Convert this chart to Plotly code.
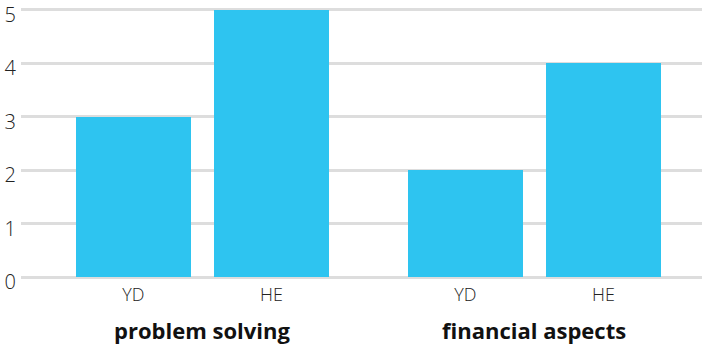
import plotly.graph_objects as go

# Chart data
groups = ["problem solving", "financial aspects"]
series = ["YD", "HE"]
values = {
    "problem solving": [3, 5],
    "financial aspects": [2, 4],
}
y_ticks = [0, 1, 2, 3, 4, 5]

BAR_COLOR = "#2EC4F0"
GRID_COLOR = "#DDDDDD"
FONT = "Open Sans"
GROUP_GAP = 2.406  # distance between first bars of consecutive groups, in bar steps

xs, ys, labels = [], [], []
for gi, g in enumerate(groups):
    for si, s in enumerate(series):
        xs.append(gi * GROUP_GAP + si)
        ys.append(values[g][si])
        labels.append(s)

fig = go.Figure(
    go.Bar(
        x=xs,
        y=ys,
        width=0.833,
        marker=dict(color=BAR_COLOR, line=dict(width=0)),
        hoverinfo="skip",
    )
)

group_centers = [gi * GROUP_GAP + (len(series) - 1) / 2 for gi in range(len(groups))]
for g, cx in zip(groups, group_centers):
    fig.add_annotation(
        x=cx, xref="x", y=0, yref="paper", yshift=-53,
        text=f"<b>{g}</b>", showarrow=False,
        font=dict(family=FONT, size=22, color="#111111"),
        xanchor="center", yanchor="middle",
    )

fig.update_layout(
    width=702, height=344,
    margin=dict(l=21, r=0, t=8, b=67),
    paper_bgcolor="white", plot_bgcolor="white",
    showlegend=False,
    bargap=0,
    xaxis=dict(
        range=[-0.815, 4.12],
        tickvals=xs, ticktext=labels,
        tickfont=dict(family=FONT, size=18, color="#222222", weight=300),
        showgrid=False, zeroline=False, showline=False,
        ticks="", ticklabelstandoff=5,
        automargin=False,
    ),
    yaxis=dict(
        range=[0, 5.037],
        tickvals=y_ticks,
        tickfont=dict(family=FONT, size=20, color="#222222", weight=300),
        showgrid=True, gridcolor=GRID_COLOR, gridwidth=2.5,
        zeroline=True, zerolinecolor=GRID_COLOR, zerolinewidth=2.5,
        showline=False, ticks="", ticklabelstandoff=4,
        ticklabelshift=5, ticklabeloverflow="allow",
        automargin=False,
    ),
)

fig.write_html("out.html")
